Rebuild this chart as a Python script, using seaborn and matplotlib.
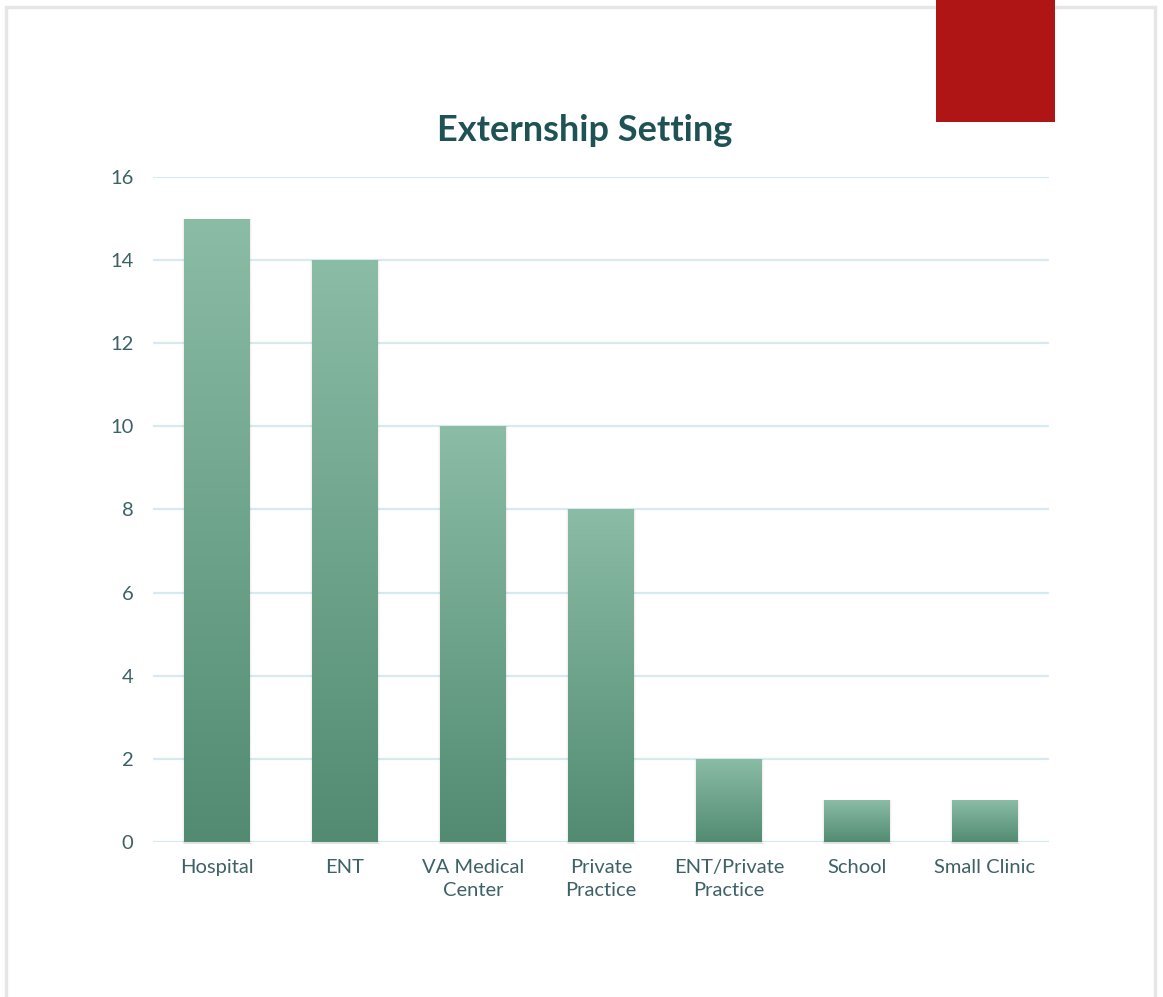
import numpy as np
import pandas as pd
import matplotlib
matplotlib.use("Agg")
import matplotlib.pyplot as plt
from matplotlib.patches import Rectangle
from matplotlib.colors import LinearSegmentedColormap
import seaborn as sns

categories = ["Hospital", "ENT", "VA Medical\nCenter", "Private\nPractice",
              "ENT/Private\nPractice", "School", "Small Clinic"]
counts = [15, 14, 10, 8, 2, 1, 1]
y_ticks = [0, 2, 4, 6, 8, 10, 12, 14, 16]

sns.set_theme(style="white")
plt.rcParams["font.family"] = ["Lato", "DejaVu Sans"]

W, H = 1163, 997
fig = plt.figure(figsize=(W / 100, H / 100), dpi=100)
fig.patch.set_facecolor("white")

# Page frame and red accent block
fig.add_artist(Rectangle((6 / W, -0.05), (1155 - 6) / W, (H - 7) / H + 0.05,
                         transform=fig.transFigure, fill=False,
                         edgecolor="#E6E6E6", linewidth=2.5, zorder=0))
fig.add_artist(Rectangle((936 / W, (H - 122) / H), (1055 - 936) / W, 122 / H,
                         transform=fig.transFigure, facecolor="#B01515",
                         edgecolor="none", zorder=5))

ax = fig.add_axes([153 / W, 155 / H, (1049 - 153) / W, (842 - 177) / H])
df = pd.DataFrame({"setting": categories, "count": counts})
sns.barplot(data=df, x="setting", y="count", ax=ax, color="#6FA68B",
            width=0.51, saturation=1, zorder=3)

cmap = LinearSegmentedColormap.from_list("bar", ["#528B72", "#8BBCA6"])
grad = np.linspace(0, 1, 256).reshape(-1, 1)
for p in ax.patches[:]:
    x0, w, h = p.get_x(), p.get_width(), p.get_height()
    # soft drop shadow along the sides and base
    for k, a in enumerate([0.06, 0.04, 0.02]):
        d = 0.006 * (k + 1)
        ax.add_patch(Rectangle((x0 - d, -0.04 - d), w + 2 * d, h + 0.04 + d,
                               facecolor="black", alpha=a, edgecolor="none",
                               zorder=2, clip_on=False))
    p.set_edgecolor("none")
    im = ax.imshow(grad, cmap=cmap, aspect="auto", origin="lower",
                   extent=(x0, x0 + w, 0, h), zorder=3.5)
    im.set_clip_path(p)

ax.set_xlim(-0.5, len(categories) - 0.5)
ax.set_ylim(0, 16)
ax.set_yticks(y_ticks)
ax.yaxis.grid(True, color="#D6EBEF", linewidth=1.6, zorder=1)
ax.set_axisbelow(True)
for s in ax.spines.values():
    s.set_visible(False)
ax.set_xlabel("")
ax.set_ylabel("")
ax.tick_params(axis="both", length=0, labelsize=14.5, labelcolor="#3D6266")
ax.tick_params(axis="y", pad=14)
ax.tick_params(axis="x", pad=12)
for lbl in ax.get_xticklabels():
    lbl.set_linespacing(1.45)

fig.text(585 / W, (H - 130) / H, "Externship Setting", ha="center", va="center",
         fontsize=26, fontweight="bold", color="#1F5255")

fig.savefig("out.png", dpi=100, facecolor="white")
